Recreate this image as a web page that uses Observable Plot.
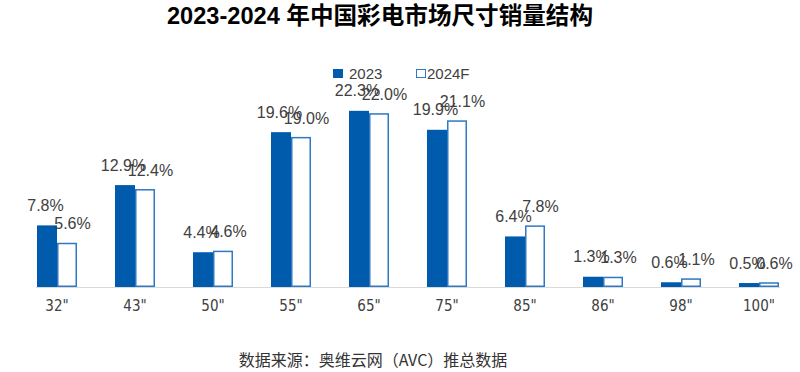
<!DOCTYPE html>
<html><head><meta charset="utf-8">
<script src="https://cdn.jsdelivr.net/npm/d3@7"></script>
<script src="https://cdn.jsdelivr.net/npm/@observablehq/plot@0.6"></script>
<style>
body{margin:0;background:#fff;}
#wrap{position:relative;width:800px;height:372px;overflow:hidden;font-family:"Liberation Sans",Arial,"Noto Sans CJK SC",sans-serif;}
#title{position:absolute;left:0;top:2px;width:760px;text-align:center;font-weight:bold;font-size:23.6px;line-height:28px;color:#000;}
#chart{position:absolute;left:0;top:40px;}
#chart g[aria-label="fx-axis tick label"]{font-family:"DejaVu Sans";font-stretch:condensed;}
#legend{position:absolute;top:64px;left:0;height:20px;font-size:15px;line-height:20px;color:#404040;}
.lg{position:absolute;top:0;white-space:nowrap;}
.sw{position:absolute;top:5px;width:10px;height:9px;box-sizing:border-box;}
#caption{position:absolute;left:0;top:349px;width:746px;text-align:center;font-size:16px;line-height:21px;color:#333;font-family:"Noto Sans CJK SC","Liberation Sans",sans-serif;}
</style></head>
<body>
<div id="wrap">
  <div id="title">2023-2024 年中国彩电市场尺寸销量结构</div>
  <div id="chart"></div>
  <div id="legend"></div>
  <div id="caption">数据来源：奥维云网（AVC）推总数据</div>
</div>
<script>
const sizes = ['32"','43"','50"','55"','65"','75"','85"','86"','98"','100"'];
const series = ["2023","2024F"];
const share2023 = [7.8,12.9,4.4,19.6,22.3,19.9,6.4,1.3,0.6,0.5];
const share2024F = [5.6,12.4,4.6,19.0,22.0,21.1,7.8,1.3,1.1,0.6];

const fill2023 = "#005BAC";
const stroke2024 = "#2F78C4";

const rows2023 = sizes.map((s,i)=>({size:s, series:series[0], value:share2023[i]}));
const rows2024 = sizes.map((s,i)=>({size:s, series:series[1], value:share2024F[i]}));
const fmt = d => d.value.toFixed(1) + "%";

const plot = Plot.plot({
  width: 800, height: 290,
  marginLeft: 16, marginRight: 2, marginTop: 0, marginBottom: 43,
  style: {fontFamily: "'Liberation Sans', Arial, sans-serif", background: "transparent"},
  fx: {domain: sizes, paddingInner: 0.48, paddingOuter: 0.24, label: null, axis: null},
  x: {domain: series, padding: 0, axis: null},
  y: {domain: [0, 25], range: [247, 247 - 25 * 7.9], axis: null},
  marks: [
    Plot.barY(rows2023, {fx: "size", x: "series", y: "value", fill: fill2023}),
    Plot.barY(rows2024, {fx: "size", x: "series", y: "value", fill: "#fff", stroke: stroke2024, strokeWidth: 1.5, inset: 0.75}),
    Plot.frame({anchor: "bottom", facet: "super", stroke: "#d9d9d9", strokeWidth: 1.2}),
    Plot.text(rows2023, {fx: "size", x: "series", y: "value", text: fmt, dy: -20, dx: -2, fontSize: 16, fill: "#404040"}),
    Plot.text(rows2024, {fx: "size", x: "series", y: "value", text: fmt, dy: -19, dx: 5, fontSize: 16, fill: "#404040"}),
    Plot.axisFx({anchor: "bottom", tickSize: 0, tickPadding: 13, fontSize: 15, fill: "#404040", label: null})
  ]
});
document.getElementById("chart").appendChild(plot);

const legend = document.getElementById("legend");
const items = [
  {name: series[0], left: 333, sw: `background:${fill2023};`},
  {name: series[1], left: 416, sw: `background:#fff;border:1.5px solid ${stroke2024};`}
];
for (const it of items) {
  const sw = document.createElement("div");
  sw.className = "sw"; sw.style.cssText = `left:${it.left}px;` + it.sw;
  legend.appendChild(sw);
  const t = document.createElement("div");
  t.className = "lg"; t.style.left = (it.left + (it.name === "2023" ? 16 : 11)) + "px";
  t.textContent = it.name;
  legend.appendChild(t);
}
</script>
</body></html>
